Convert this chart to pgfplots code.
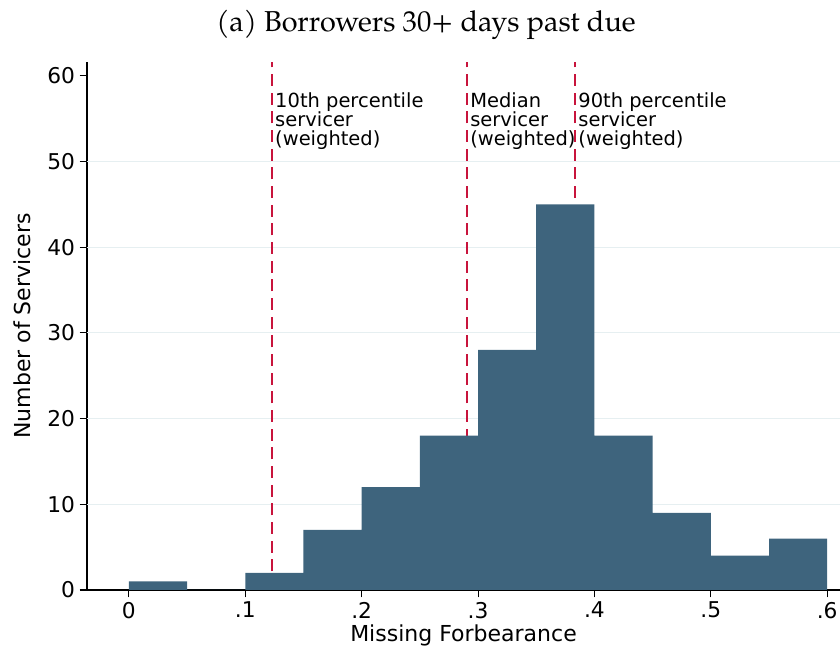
\documentclass[border=0pt]{standalone}
\usepackage{fontspec}
\setmainfont{DejaVu Sans}
\newfontfamily\titlefont{TeX Gyre Pagella}
\usepackage{pgfplots}
\pgfplotsset{compat=1.18}
\usetikzlibrary{calc}
\definecolor{barcol}{RGB}{62,100,125}
\definecolor{refred}{RGB}{200,20,60}
\definecolor{gridcol}{RGB}{230,239,241}
\begin{document}
\begin{tikzpicture}[x=1pt,y=1pt]
\begin{axis}[
  scale only axis,
  width=564.75pt, height=396pt,
  xmin=-0.036, xmax=0.611,
  ymin=0, ymax=61.6,
  axis x line*=bottom, axis y line*=left,
  axis line style={line width=0.8pt, -},
  tick align=outside,
  major tick length=5.5pt,
  tick style={line width=0.8pt, black},
  xtick={0,0.1,0.2,0.3,0.4,0.5,0.6},
  xticklabels={0,.1,.2,.3,.4,.5,.6},
  ytick={0,10,20,30,40,50,60},
  yticklabel style={font=\fontsize{16.3}{18}\selectfont},
  xticklabel style={font=\fontsize{16.3}{18}\selectfont},
  /pgf/number format/assume math mode=true,
  xlabel={Missing Forbearance},
  ylabel={Number of Servicers},
  label style={font=\fontsize{16.5}{19}\selectfont},
  xlabel style={yshift=2pt},
  ylabel style={yshift=5.5pt},
  clip=false,
]
% grid lines
\foreach \g in {10,20,30,40,50} {
  \edef\tmp{\noexpand\draw[gridcol, line width=0.8pt] (axis cs:-0.036,\g) -- (axis cs:0.611,\g);}
  \tmp
}
% reference lines
\addplot[refred, line width=1.5pt, dash pattern=on 9pt off 5pt] coordinates {(0.123,0) (0.123,61.6)};
\addplot[refred, line width=1.5pt, dash pattern=on 9pt off 5pt] coordinates {(0.2906,0) (0.2906,61.6)};
\addplot[refred, line width=1.5pt, dash pattern=on 9pt off 5pt] coordinates {(0.3835,0) (0.3835,61.6)};
% histogram
\addplot[ybar interval, fill=barcol, draw=none] coordinates {
  (0,1) (0.05,0) (0.1,2) (0.15,7) (0.2,12) (0.25,18) (0.3,28)
  (0.35,45) (0.4,18) (0.45,9) (0.5,4) (0.55,6) (0.6,6)
};
\node[anchor=north west, align=left, inner sep=0pt, xshift=2.2pt,
  font=\fontsize{14.6}{14.5}\selectfont] at (axis cs:0.123,58.1)
  {10th percentile\\servicer\\(weighted)};
\node[anchor=north west, align=left, inner sep=0pt, xshift=2.2pt,
  font=\fontsize{14.6}{14.5}\selectfont] at (axis cs:0.2906,58.1)
  {Median\\servicer\\(weighted)};
\node[anchor=north west, align=left, inner sep=0pt, xshift=2.2pt,
  font=\fontsize{14.6}{14.5}\selectfont] at (axis cs:0.3835,58.1)
  {90th percentile\\servicer\\(weighted)};
\coordinate (BL) at (rel axis cs:0,0);
\coordinate (TR) at (rel axis cs:1,1);
\end{axis}
\pgfresetboundingbox
\path ([xshift=-65.25pt, yshift=-45pt]BL) rectangle ([yshift=46.5pt]TR);
\path let \p1=(BL), \p2=(TR) in node[font=\titlefont\fontsize{21.6}{24}\selectfont, anchor=base] at (\x1+254.25pt, \y2+22.5pt) {(a) Borrowers 30+ days past due};
\end{tikzpicture}
\end{document}
